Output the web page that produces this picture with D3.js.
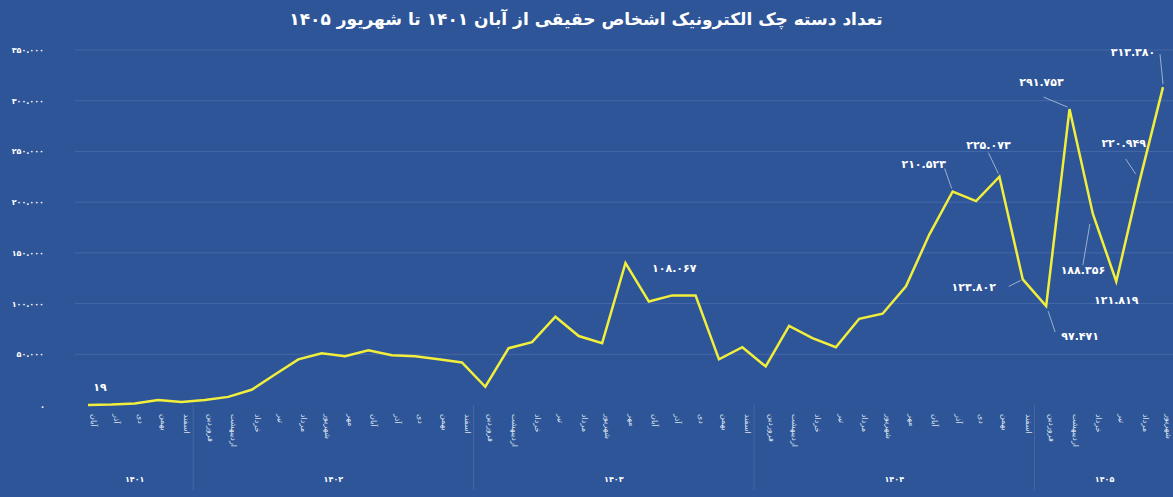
<!DOCTYPE html>
<html><head><meta charset="utf-8">
<script src="https://cdnjs.cloudflare.com/ajax/libs/d3/7.8.5/d3.min.js"></script>
<style>body{margin:0;background:#2e5597;}svg{display:block;font-family:"DejaVu Sans",sans-serif;}</style>
</head><body><svg id="chart" width="1173" height="497"></svg>
<script>
var years = ["۱۴۰۱", "۱۴۰۲", "۱۴۰۳", "۱۴۰۴", "۱۴۰۵"];
var yearMonths = [5, 12, 12, 12, 6];
var allMonths = ["فروردین","اردیبهشت","خرداد","تیر","مرداد","شهریور","مهر","آبان","آذر","دی","بهمن","اسفند"];
var values = [19, 500, 1500, 5000, 3000, 5000, 8000, 15000, 30000, 45000, 51000, 48000, 54000, 49000, 48000, 45000, 42000,
  18000, 56000, 62000, 87000, 68000, 61000, 140000, 102000, 108067, 108000, 45000, 57000,
  38000, 78000, 66000, 57000, 85000, 90000, 117000, 168000, 210523, 201000, 225073, 123802,
  97471, 291753, 188356, 121819, 220949, 313380];
var yTicks = [0, 50000, 100000, 150000, 200000, 250000, 300000, 350000];
// [index, label dx, label dy, leader from (dx,dy), leader to (dx,dy)] relative to the point
var notes = [[0, 12, -17], [25, 2, -26],
  [37, -29, -26, -8, -23, -1, -3], [39, -11, -31, -11, -24, -1, -3],
  [40, -49, 9, -14, 7, -2, 1], [41, 34, 31, 2, 5, 9, 26],
  [42, -28, -26, -26, -12, -2, -2], [43, -10, 57, -10, 51, -3, 10],
  [44, 0, 20], [45, -16, -37, -14, -22, -4, -7], [46, -30, -34, -3, -33, 0, -3]];

var titleText = "تعداد دسته چک الکترونیک اشخاص حقیقی از آبان ۱۴۰۱ تا شهریور ۱۴۰۵";
function fa(n) { return String(n).replace(/\d/g, function(d){ return "۰۱۲۳۴۵۶۷۸۹"[d]; }); }
function faNum(n) { return fa(d3.format(",")(n).replace(/,/g, ".")); }

var labels = [];
years.forEach(function(y, i) {
  var m = i == 0 ? allMonths.slice(7) : allMonths.slice(0, yearMonths[i]);
  m.forEach(function(mm){ labels.push(mm); });
});

var svg = d3.select("#chart");
var x = d3.scaleLinear().domain([0, values.length - 1]).range([88, 1163]);
var y = d3.scaleLinear().domain([0, 350000]).range([405, 50]);

svg.append("text").attr("x", 586).attr("y", 25).attr("text-anchor", "middle").attr("fill", "white")
  .attr("font-weight", "bold").attr("font-size", 17).attr("direction", "rtl").text(titleText);

svg.append("g").selectAll("line").data(yTicks.slice(1)).enter().append("line")
  .attr("x1", 75).attr("x2", 1173).attr("y1", y).attr("y2", y)
  .attr("stroke", "#4568a8").attr("stroke-width", 1);
svg.append("g").selectAll("text").data(yTicks).enter().append("text")
  .attr("x", 44).attr("y", function(d){ return y(d) + 3; }).attr("text-anchor", "end")
  .attr("fill", "white").attr("font-size", 8).attr("font-weight", "bold")
  .text(function(d){ return d == 0 ? "." : faNum(d); });

var start = 0;
years.forEach(function(yr, i) {
  var end = start + yearMonths[i] - 1;
  if (i > 0) svg.append("line").attr("x1", x(start - 0.5)).attr("x2", x(start - 0.5))
    .attr("y1", 405).attr("y2", 490).attr("stroke", "#4568a8");
  svg.append("text").attr("x", (x(start) + x(end)) / 2).attr("y", 482).attr("text-anchor", "middle")
    .attr("fill", "white").attr("font-size", 8).attr("font-weight", "bold").text(yr);
  start = end + 1;
});

svg.append("g").selectAll("text").data(labels).enter().append("text")
  .attr("transform", function(d, i){ return "translate(" + (x(i) + 3) + ",414) rotate(90)"; })
  .attr("fill", "#dde4f0").attr("font-size", 8).attr("direction", "rtl").attr("text-anchor", "end")
  .text(function(d){ return d; });

svg.append("path").datum(values)
  .attr("d", d3.line().x(function(d, i){ return x(i); }).y(function(d){ return y(d); }))
  .attr("fill", "none").attr("stroke", "#f2ef3c").attr("stroke-width", 2.5);

notes.forEach(function(n) {
  var px = x(n[0]), py = y(values[n[0]]);
  if (n.length > 3) svg.append("line").attr("x1", px + n[3]).attr("y1", py + n[4])
    .attr("x2", px + n[5]).attr("y2", py + n[6])
    .attr("stroke", "#b8c6de").attr("stroke-width", 0.8);
  svg.append("text").attr("x", px + n[1]).attr("y", py + n[2]).attr("text-anchor", "middle")
    .attr("dominant-baseline", "middle")
    .attr("fill", "white").attr("font-size", 11).attr("font-weight", "bold")
    .text(n[0] == 0 ? fa(values[0]) : faNum(values[n[0]]));
});
</script></body></html>
